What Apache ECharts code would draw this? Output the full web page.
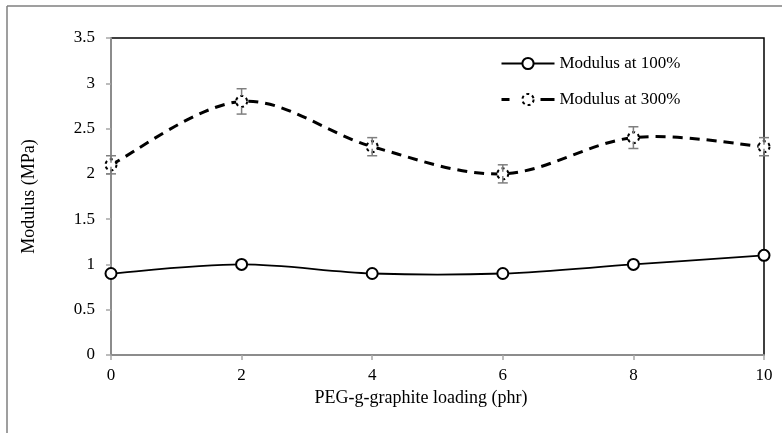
<!DOCTYPE html>
<html>
<head>
<meta charset="utf-8">
<script src="https://cdn.jsdelivr.net/npm/echarts@6/dist/echarts.min.js"></script>
<style>
  html, body { margin: 0; padding: 0; background: #fff; }
  #chart { width: 782px; height: 433px; }
</style>
</head>
<body>
<div id="chart"></div>
<script>
// PEG-g-graphite loading (phr)
const loading = [0, 2, 4, 6, 8, 10];
// Modulus values (MPa)
const modulus100 = [0.9, 1.0, 0.9, 0.9, 1.0, 1.1];
const modulus300 = [2.1, 2.8, 2.3, 2.0, 2.4, 2.3];
// Error (±) on the 300% modulus
const modulus300Err = [0.1, 0.14, 0.1, 0.1, 0.12, 0.1];
const yTicks = [0, 0.5, 1, 1.5, 2, 2.5, 3, 3.5];

const FONT = '"Liberation Serif", "Times New Roman", serif';
const chart = echarts.init(document.getElementById('chart'));

const pairs = (ys) => loading.map((x, i) => [x, ys[i]]);
const errData = loading.map((x, i) => [x, modulus300[i] - modulus300Err[i], modulus300[i] + modulus300Err[i]]);

// Smoothed curve through the points (cubic Bezier, Catmull-Rom style tangents)
function smoothRenderer(values, style) {
  return function (params, api) {
    const pts = loading.map((x, i) => api.coord([x, values[i]]));
    const n = pts.length;
    const at = (k) => pts[Math.max(0, Math.min(n - 1, k))];
    let d = 'M' + pts[0][0] + ' ' + pts[0][1];
    for (let i = 0; i < n - 1; i++) {
      const p0 = at(i - 1), p1 = at(i), p2 = at(i + 1), p3 = at(i + 2);
      const c1x = p1[0] + (p2[0] - p0[0]) / 6, c1y = p1[1] + (p2[1] - p0[1]) / 6;
      const c2x = p2[0] - (p3[0] - p1[0]) / 6, c2y = p2[1] - (p3[1] - p1[1]) / 6;
      d += ' C' + c1x + ' ' + c1y + ' ' + c2x + ' ' + c2y + ' ' + p2[0] + ' ' + p2[1];
    }
    return { type: 'path', shape: { pathData: d }, style: Object.assign({ fill: null }, style) };
  };
}

const markerSeries = (name, values, borderType) => ({
  name: name, type: 'line', data: pairs(values),
  symbol: 'circle', symbolSize: 11,
  lineStyle: { width: 0, opacity: 0 },
  itemStyle: { color: '#fff', borderColor: '#000', borderWidth: 2, borderType: borderType },
  z: 5
});

chart.setOption({
  animation: false,
  backgroundColor: '#fff',
  grid: {
    left: 111, right: 18, top: 38, bottom: 78,
    show: true, borderColor: '#000', borderWidth: 1.5, backgroundColor: 'transparent'
  },
  legend: {
    left: 495, top: 50,
    orient: 'vertical',
    itemWidth: 53, itemHeight: 14, itemGap: 19,
    textStyle: { fontFamily: FONT, fontSize: 17, color: '#000' },
    data: [
      { name: 'Modulus at 100%', lineStyle: { color: '#000', width: 1.8, opacity: 1, type: 'solid' } },
      {
        name: 'Modulus at 300%',
        lineStyle: { color: '#000', width: 3, opacity: 1, type: [8, 31, 20, 10] },
        itemStyle: { color: '#fff', borderColor: '#000', borderWidth: 2, borderType: [3, 3] }
      }
    ]
  },
  xAxis: {
    type: 'value', min: 0, max: 10, interval: 2,
    axisLine: { lineStyle: { color: '#8c8c8c', width: 2 } },
    axisTick: { show: true, length: 5, lineStyle: { color: '#a6a6a6', width: 1.5 } },
    axisLabel: { margin: 12, fontFamily: FONT, fontSize: 17, color: '#000' },
    splitLine: { show: false }
  },
  yAxis: {
    type: 'value', min: yTicks[0], max: yTicks[yTicks.length - 1], interval: 0.5,
    name: 'Modulus (MPa)', nameLocation: 'middle', nameGap: 73,
    nameTextStyle: { fontFamily: FONT, fontSize: 18, color: '#000' },
    axisLine: { show: true, lineStyle: { color: '#8c8c8c', width: 2 } },
    axisTick: { show: true, length: 5, lineStyle: { color: '#a6a6a6', width: 1.5 } },
    axisLabel: { margin: 16, fontFamily: FONT, fontSize: 17, color: '#000' },
    splitLine: { show: false }
  },
  graphic: [
    { type: 'line', shape: { x1: 7, y1: 6, x2: 790, y2: 6 }, style: { stroke: '#7f7f7f', lineWidth: 1.5 } },
    { type: 'line', shape: { x1: 7, y1: 6, x2: 7, y2: 440 }, style: { stroke: '#7f7f7f', lineWidth: 1.5 } },
    {
      type: 'text',
      style: { text: 'PEG-g-graphite loading (phr)', x: 421, y: 398, align: 'center', verticalAlign: 'middle',
               font: '18px ' + FONT, fill: '#000' }
    }
  ],
  series: [
    {
      name: 'curve100', type: 'custom', data: [[0, 0]], z: 3, silent: true,
      renderItem: smoothRenderer(modulus100, { stroke: '#000', lineWidth: 1.8 })
    },
    {
      name: 'curve300', type: 'custom', data: [[0, 0]], z: 3, silent: true,
      renderItem: smoothRenderer(modulus300, { stroke: '#000', lineWidth: 3, lineDash: [10, 7] })
    },
    markerSeries('Modulus at 100%', modulus100, 'solid'),
    markerSeries('Modulus at 300%', modulus300, [3, 3]),
    {
      name: 'err300', type: 'custom', data: errData, z: 6, silent: true,
      renderItem: function (params, api) {
        const x = api.value(0);
        const lo = api.coord([x, api.value(1)]);
        const hi = api.coord([x, api.value(2)]);
        const w = 5;
        const st = { stroke: '#7f7f7f', lineWidth: 1.5 };
        return {
          type: 'group',
          children: [
            { type: 'line', shape: { x1: hi[0], y1: hi[1], x2: hi[0], y2: hi[1] + 7 }, style: st },
            { type: 'line', shape: { x1: lo[0], y1: lo[1], x2: lo[0], y2: lo[1] - 7 }, style: st },
            { type: 'line', shape: { x1: hi[0] - w, y1: hi[1], x2: hi[0] + w, y2: hi[1] }, style: st },
            { type: 'line', shape: { x1: lo[0] - w, y1: lo[1], x2: lo[0] + w, y2: lo[1] }, style: st }
          ]
        };
      }
    }
  ]
});
</script>
</body>
</html>
